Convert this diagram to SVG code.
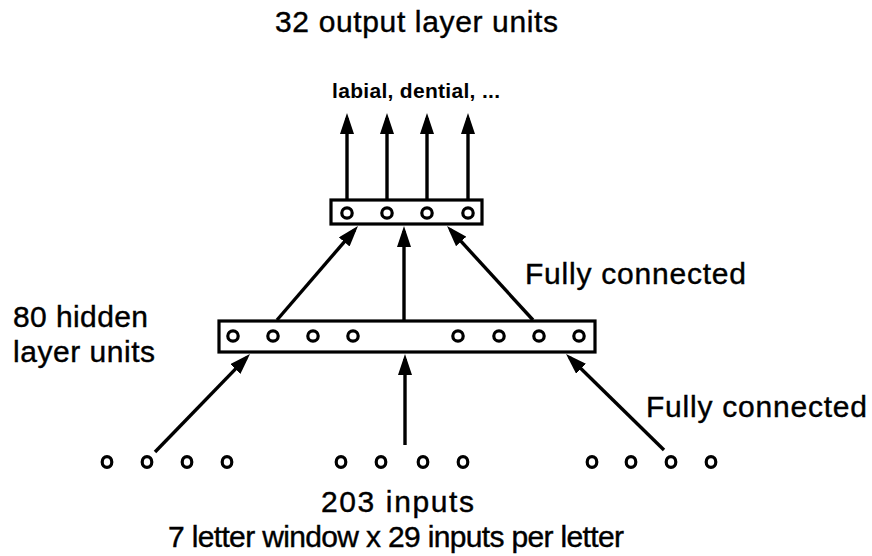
<svg xmlns="http://www.w3.org/2000/svg" width="872" height="556" viewBox="0 0 872 556">
<style>
.t{font-family:"Liberation Sans",Arial,sans-serif;font-size:30px;fill:#000;stroke:#000;stroke-width:0.4}
.lb{font-family:"Liberation Sans",Arial,sans-serif;font-size:21px;font-weight:bold;fill:#000}
.box{fill:#fff;stroke:#000;stroke-width:3.2}
.u{fill:#fff;stroke:#000;stroke-width:3.2}
.c{stroke:#000;stroke-width:3.4;fill:none;marker-end:url(#ah)}
</style>
<defs>
<marker id="ah" markerUnits="userSpaceOnUse" markerWidth="21" markerHeight="14" refX="16" refY="7" orient="auto">
<path d="M0,0 L21,7 L0,14 Z" fill="#000"/>
</marker>
</defs>
<rect width="872" height="556" fill="#fff"/>
<text class="t" x="275" y="32" textLength="283" lengthAdjust="spacing">32 output layer units</text>
<text class="lb" x="332" y="98" textLength="168" lengthAdjust="spacing">labial, dential, ...</text>
<text class="t" x="13" y="327" textLength="135" lengthAdjust="spacing">80 hidden</text>
<text class="t" x="13" y="362" textLength="142" lengthAdjust="spacing">layer units</text>
<text class="t" x="525" y="284" textLength="221" lengthAdjust="spacing">Fully connected</text>
<text class="t" x="646" y="417" textLength="221" lengthAdjust="spacing">Fully connected</text>
<text class="t" x="321" y="512" textLength="153" lengthAdjust="spacing">203 inputs</text>
<text class="t" x="168" y="547" textLength="456" lengthAdjust="spacing">7 letter window x 29 inputs per letter</text>
<g id="connectors">
<line class="c" x1="347" y1="199" x2="347" y2="118"/>
<line class="c" x1="387" y1="199" x2="387" y2="118"/>
<line class="c" x1="427" y1="199" x2="427" y2="118"/>
<line class="c" x1="468" y1="199" x2="468" y2="118"/>
<line class="c" x1="277" y1="320" x2="354.7" y2="229.8"/>
<line class="c" x1="404" y1="320" x2="404" y2="231"/>
<line class="c" x1="533" y1="320" x2="450.4" y2="229.7"/>
<line class="c" x1="155" y1="452" x2="246.5" y2="357.6"/>
<line class="c" x1="405" y1="445" x2="405" y2="359"/>
<line class="c" x1="664" y1="450" x2="569.6" y2="357.5"/>
</g>
<g id="output-layer">
<rect class="box" x="331" y="200" width="151" height="24"/>
<circle class="u" cx="347" cy="213" r="5.2"/>
<circle class="u" cx="387" cy="213" r="5.2"/>
<circle class="u" cx="427" cy="213" r="5.2"/>
<circle class="u" cx="468" cy="213" r="5.2"/>
</g>
<g id="hidden-layer">
<rect class="box" x="219" y="321" width="376" height="31"/>
<circle class="u" cx="233" cy="336" r="5.2"/>
<circle class="u" cx="273" cy="336" r="5.2"/>
<circle class="u" cx="313" cy="336" r="5.2"/>
<circle class="u" cx="353" cy="336" r="5.2"/>
<circle class="u" cx="458" cy="336" r="5.2"/>
<circle class="u" cx="499" cy="336" r="5.2"/>
<circle class="u" cx="539" cy="336" r="5.2"/>
<circle class="u" cx="579" cy="336" r="5.2"/>
</g>
<g id="input-layer">
<ellipse class="u" cx="107" cy="462" rx="4.8" ry="5.4"/>
<ellipse class="u" cx="147" cy="462" rx="4.8" ry="5.4"/>
<ellipse class="u" cx="187" cy="462" rx="4.8" ry="5.4"/>
<ellipse class="u" cx="227" cy="462" rx="4.8" ry="5.4"/>
<ellipse class="u" cx="341" cy="462" rx="4.8" ry="5.4"/>
<ellipse class="u" cx="381" cy="462" rx="4.8" ry="5.4"/>
<ellipse class="u" cx="423" cy="462" rx="4.8" ry="5.4"/>
<ellipse class="u" cx="463" cy="462" rx="4.8" ry="5.4"/>
<ellipse class="u" cx="592" cy="462" rx="4.8" ry="5.4"/>
<ellipse class="u" cx="631" cy="462" rx="4.8" ry="5.4"/>
<ellipse class="u" cx="671" cy="462" rx="4.8" ry="5.4"/>
<ellipse class="u" cx="711" cy="462" rx="4.8" ry="5.4"/>
</g>
</svg>
